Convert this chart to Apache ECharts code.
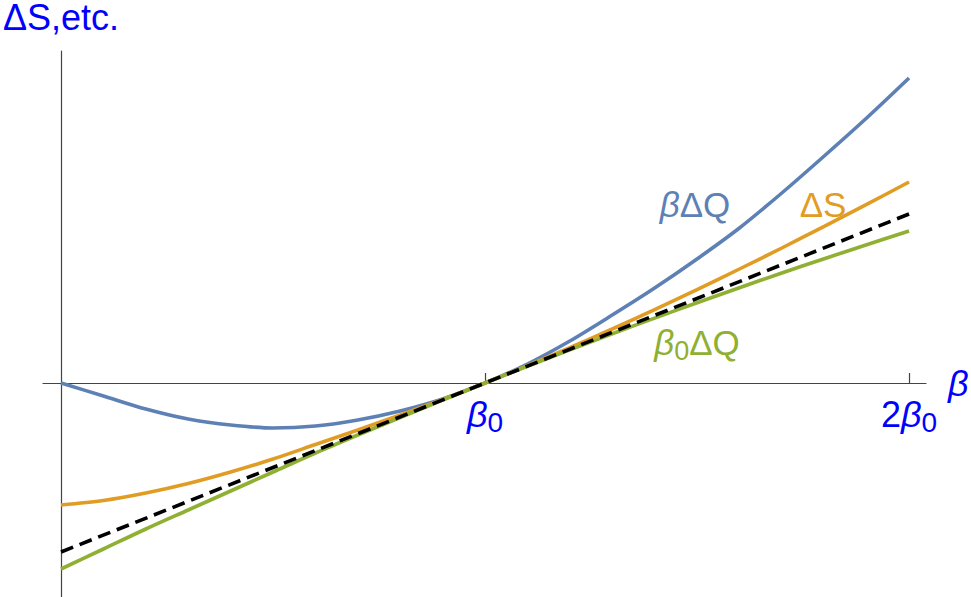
<!DOCTYPE html>
<html>
<head>
<meta charset="utf-8">
<script src="https://cdn.jsdelivr.net/npm/echarts@6/dist/echarts.min.js"></script>
<style>
html,body{margin:0;padding:0;background:#fff;}
#chart{width:971px;height:597px;}
</style>
</head>
<body>
<div id="chart"></div>
<script>
// beta / beta0
const betaRatio = [0,0.1,0.2,0.3,0.4,0.5,0.6,0.7,0.8,0.9,1.0,1.1,1.2,1.3,1.4,1.5,1.6,1.7,1.8,1.9,2.0];
// beta * DeltaQ (blue)
const betaDQ = [0,-0.13,-0.26,-0.36,-0.42,-0.45,-0.43,-0.37,-0.28,-0.16,0,0.19,0.42,0.68,0.95,1.24,1.55,1.90,2.27,2.65,3.05];
// DeltaS (orange)
const deltaS = [-1.22,-1.175,-1.10,-1.005,-0.89,-0.76,-0.615,-0.47,-0.32,-0.165,0,0.173,0.353,0.54,0.734,0.934,1.14,1.35,1.567,1.786,2.01];
// beta0 * DeltaQ (green)
const beta0DQ = [-1.86,-1.66,-1.46,-1.27,-1.08,-0.89,-0.70,-0.52,-0.345,-0.17,0,0.167,0.331,0.492,0.649,0.802,0.953,1.10,1.243,1.383,1.52];
// tangent line (black dashed)
const tangentX = [0,2];
const tangentY = [-1.69,1.69];
// tick positions / labels
const tickValues = [1,2];
const tickLabels = ['{i|β}{s|0}','2{i|β}{s|0}'];

const pairs = (xs, ys) => xs.map((x, i) => [x, ys[i]]);

const FONT = 'Liberation Sans, Arial, sans-serif';
const BLUE = '#5E81B5', ORANGE = '#E19C24', GREEN = '#8FB032';
const Y_MIN = -2.14, Y_MAX = 3.32;
const GRID_TOP = 51, GRID_BOTTOM = 0, H = 597;
// distance from grid bottom to the zero line (x-axis drawn on zero)
const zeroOffset = (H - GRID_TOP - GRID_BOTTOM) * (0 - Y_MIN) / (Y_MAX - Y_MIN);

const chart = echarts.init(document.getElementById('chart'), null, {renderer: 'svg'});
chart.setOption({
  animation: false,
  backgroundColor: '#ffffff',
  grid: {left: 43, right: 45, top: GRID_TOP, bottom: GRID_BOTTOM, containLabel: false, outerBoundsMode: 'none'},
  xAxis: {
    type: 'value', min: -0.0425, max: 2.04,
    splitLine: {show: false},
    axisLine: {onZero: true, lineStyle: {color: '#444', width: 1.2}},
    axisTick: {show: true, inside: true, length: 10, customValues: tickValues, lineStyle: {color: '#444', width: 1.2}},
    axisLabel: {
      show: true, margin: 9 - zeroOffset, customValues: tickValues,
      formatter: v => tickLabels[tickValues.indexOf(v)] || '',
      color: '#0000ff', fontFamily: FONT, fontSize: 36, verticalAlign: 'top',
      rich: {
        i: {fontStyle: 'italic', fontSize: 36, color: '#0000ff', fontFamily: FONT, lineHeight: 44},
        s: {fontSize: 28, color: '#0000ff', fontFamily: FONT, lineHeight: 44, verticalAlign: 'bottom'}
      }
    },
    name: 'β', nameLocation: 'end', nameGap: 22,
    nameTextStyle: {color: '#0000ff', fontSize: 36, fontStyle: 'italic', fontFamily: FONT, padding: [8,0,0,0]}
  },
  yAxis: {
    type: 'value', min: Y_MIN, max: Y_MAX,
    splitLine: {show: false},
    axisLine: {onZero: true, lineStyle: {color: '#444', width: 1.2}},
    axisTick: {show: false},
    axisLabel: {show: false},
    name: 'ΔS,etc.', nameLocation: 'end', nameGap: 19,
    nameTextStyle: {color: '#0000ff', fontSize: 36, lineHeight: 30, fontFamily: FONT, align: 'center'}
  },
  series: [
    {type: 'line', name: 'βΔQ', data: pairs(betaRatio, betaDQ), smooth: 0.3, symbol: 'none',
     lineStyle: {color: BLUE, width: 3.6}, z: 2},
    {type: 'line', name: 'ΔS', data: pairs(betaRatio, deltaS), smooth: 0.3, symbol: 'none',
     lineStyle: {color: ORANGE, width: 3.6}, z: 3},
    {type: 'line', name: 'β0ΔQ', data: pairs(betaRatio, beta0DQ), smooth: 0.3, symbol: 'none',
     lineStyle: {color: GREEN, width: 3.6}, z: 4},
    {type: 'line', name: 'tangent', data: pairs(tangentX, tangentY), symbol: 'none',
     lineStyle: {color: '#000', width: 3.6, type: [13, 7]}, z: 5}
  ],
  graphic: [
    {type: 'text', x: 695, y: 204, style: {text: '{i|β}ΔQ', fill: BLUE, font: '35px ' + FONT, align: 'center', verticalAlign: 'middle',
      rich: {i: {fontStyle: 'italic', fontSize: 35, fontFamily: FONT, fill: BLUE}}}},
    {type: 'text', x: 823, y: 204, style: {text: 'ΔS', fill: ORANGE, font: '35px ' + FONT, align: 'center', verticalAlign: 'middle'}},
    {type: 'text', x: 697, y: 342, style: {text: '{i|β}{s|0}ΔQ', fill: GREEN, font: '35px ' + FONT, align: 'center', verticalAlign: 'middle',
      rich: {i: {fontStyle: 'italic', fontSize: 35, fontFamily: FONT, fill: GREEN, lineHeight: 44},
             s: {fontSize: 27, fontFamily: FONT, fill: GREEN, lineHeight: 44, verticalAlign: 'bottom'}}}}
  ]
});
</script>
</body>
</html>
